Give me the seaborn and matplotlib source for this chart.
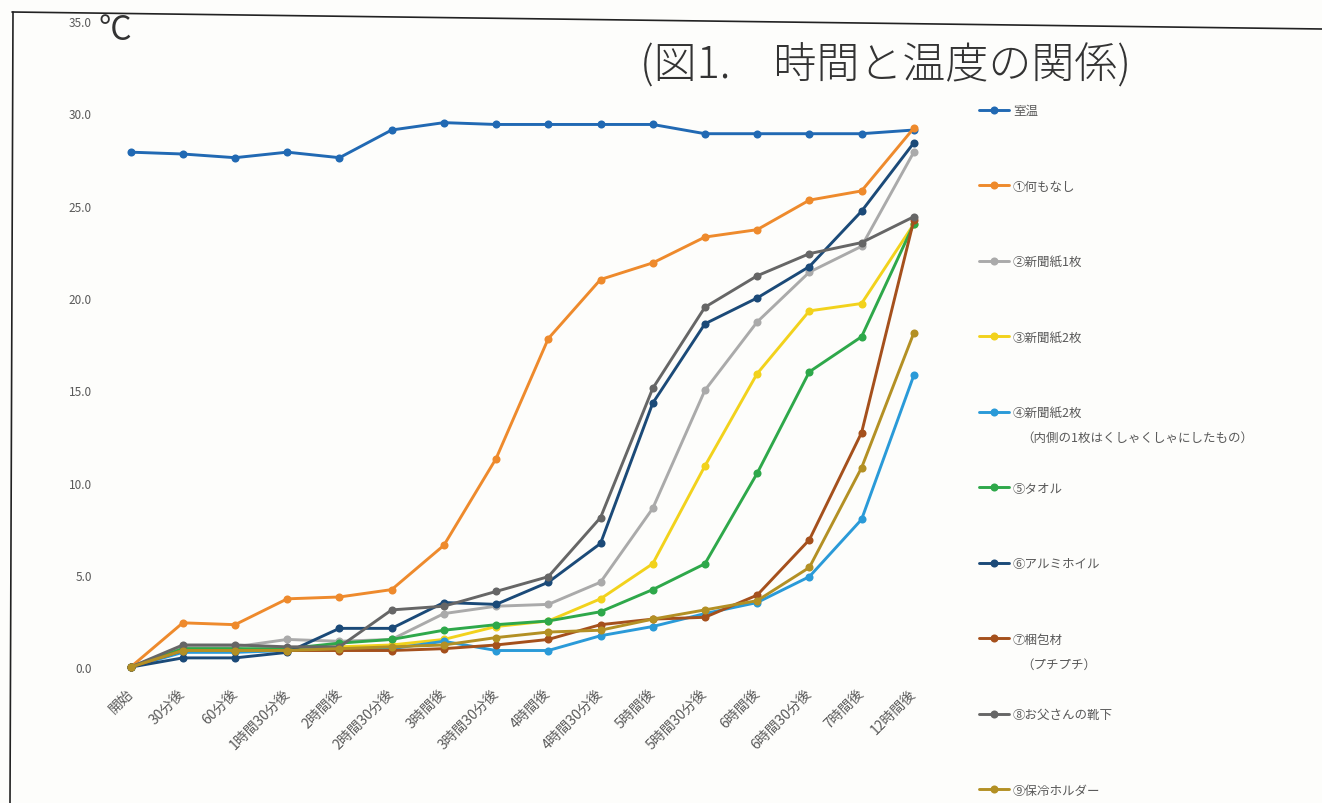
import numpy as np
import pandas as pd
import matplotlib
matplotlib.use('Agg')
import matplotlib.pyplot as plt
import seaborn as sns
from matplotlib.lines import Line2D

sns.set_style('white')
plt.rcParams['font.family'] = ['Noto Sans CJK JP', 'DejaVu Sans']

# time points (x axis categories)
times = ['開始', '30分後', '60分後', '1時間30分後', '2時間後', '2時間30分後', '3時間後',
         '3時間30分後', '4時間後', '4時間30分後', '5時間後', '5時間30分後', '6時間後',
         '6時間30分後', '7時間後', '12時間後']

# temperatures
room     = [27.9, 27.8, 27.6, 27.9, 27.6, 29.1, 29.5, 29.4, 29.4, 29.4, 29.4, 28.9, 28.9, 28.9, 28.9, 29.1]
nothing  = [0.0, 2.4, 2.3, 3.7, 3.8, 4.2, 6.6, 11.3, 17.8, 21.0, 21.9, 23.3, 23.7, 25.3, 25.8, 29.2]
paper1   = [0.0, 1.1, 1.1, 1.5, 1.4, 1.5, 2.9, 3.3, 3.4, 4.6, 8.6, 15.0, 18.7, 21.4, 22.8, 27.9]
paper2   = [0.0, 0.9, 0.9, 1.0, 1.1, 1.2, 1.5, 2.2, 2.5, 3.7, 5.6, 10.9, 15.9, 19.3, 19.7, 24.0]
crumpled = [0.0, 0.8, 0.8, 0.9, 1.0, 1.0, 1.4, 0.9, 0.9, 1.7, 2.2, 2.9, 3.5, 4.9, 8.0, 15.8]
towel    = [0.0, 1.0, 1.0, 1.0, 1.3, 1.5, 2.0, 2.3, 2.5, 3.0, 4.2, 5.6, 10.5, 16.0, 17.9, 24.0]
foil     = [0.0, 0.5, 0.5, 0.8, 2.1, 2.1, 3.5, 3.4, 4.6, 6.7, 14.3, 18.6, 20.0, 21.7, 24.7, 28.4]
bubble   = [0.0, 0.9, 0.9, 0.9, 0.9, 0.9, 1.0, 1.2, 1.5, 2.3, 2.6, 2.7, 3.9, 6.9, 12.7, 24.2]
socks    = [0.0, 1.2, 1.2, 1.1, 1.1, 3.1, 3.3, 4.1, 4.9, 8.1, 15.1, 19.5, 21.2, 22.4, 23.0, 24.4]
holder   = [0.0, 0.9, 0.9, 0.9, 1.0, 1.1, 1.2, 1.6, 1.9, 2.0, 2.6, 3.1, 3.6, 5.4, 10.8, 18.1]

series_names = ['室温', '①何もなし', '②新聞紙1枚', '③新聞紙2枚', '④新聞紙2枚', '⑤タオル',
                '⑥アルミホイル', '⑦梱包材', '⑧お父さんの靴下', '⑨保冷ホルダー']
series_values = [room, nothing, paper1, paper2, crumpled, towel, foil, bubble, socks, holder]
colors = ['#2169b3', '#ee8a2c', '#aaaaaa', '#f2d21c', '#2a9ad8', '#2ea84a',
          '#1b4a78', '#a5501c', '#666666', '#b39024']
sub_labels = {4: '（内側の1枚はくしゃくしゃにしたもの）', 7: '（プチプチ）'}

frames = []
for name, vals in zip(series_names, series_values):
    frames.append(pd.DataFrame({'idx': np.arange(len(times)), 'temp': vals, 'series': name}))
df = pd.concat(frames, ignore_index=True)

fig = plt.figure(figsize=(13.22, 8.04), dpi=100, facecolor='#fdfdfb')
ax = fig.add_axes([0.083, 0.169, 0.624, 0.8035])
ax.set_facecolor('none')

sns.lineplot(data=df, x='idx', y='temp', hue='series', hue_order=series_names,
             palette=colors, marker='o', markersize=5.8, markeredgewidth=0,
             linewidth=2.1, sort=False, ax=ax, clip_on=False)

ax.set_xlim(-0.4, 15.4)
ax.set_ylim(0, 35)
ax.set_yticks(np.arange(0, 36, 5))
ax.set_yticklabels([f'{v:.1f}' for v in np.arange(0, 36, 5)])
ax.set_xticks(np.arange(len(times)))
ax.set_xticklabels(times, rotation=45, ha='right', va='center', rotation_mode='anchor')
ax.tick_params(axis='y', length=0, labelsize=8.5, labelcolor='#595959', pad=13)
ax.tick_params(axis='x', length=0, labelsize=10, labelcolor='#595959', pad=17)
ax.set_xlabel('')
ax.set_ylabel('')
for s in ax.spines.values():
    s.set_visible(False)

handles, labels = ax.get_legend_handles_labels()
leg = ax.legend(handles, labels, loc='upper left',
                bbox_to_anchor=(968 / 1322, 1 - 94 / 804), bbox_transform=fig.transFigure,
                frameon=False, fontsize=9, labelspacing=5.0, handlelength=2.4,
                handletextpad=0.3, labelcolor='#595959')

# handwritten-style annotations
fig.text(885 / 1322, 1 - 66 / 804, '(図1.　時間と温度の関係)', fontsize=31,
         ha='center', va='center', color='#333333', fontweight='light')
fig.text(98 / 1322, 1 - 30 / 804, '°C', fontsize=24, ha='left', va='center', color='#333333')

# scanned paper border
fig.add_artist(Line2D([12 / 1322, 1], [1 - 13 / 804, 1 - 30 / 804], transform=fig.transFigure,
                      color='#222222', lw=1.2))
fig.add_artist(Line2D([13 / 1322, 10 / 1322], [1 - 13 / 804, 0], transform=fig.transFigure,
                      color='#222222', lw=1.2))

# second lines of two legend entries
fig.canvas.draw()
texts = leg.get_texts()
for i, sub in sub_labels.items():
    bb = texts[i].get_window_extent()
    fig.text((bb.x0 + 8) / 1322, (bb.y0 + bb.height / 2 - 25) / 804, sub, fontsize=9,
             color='#595959', ha='left', va='center')

fig.savefig('out.png', dpi=100, facecolor=fig.get_facecolor())
